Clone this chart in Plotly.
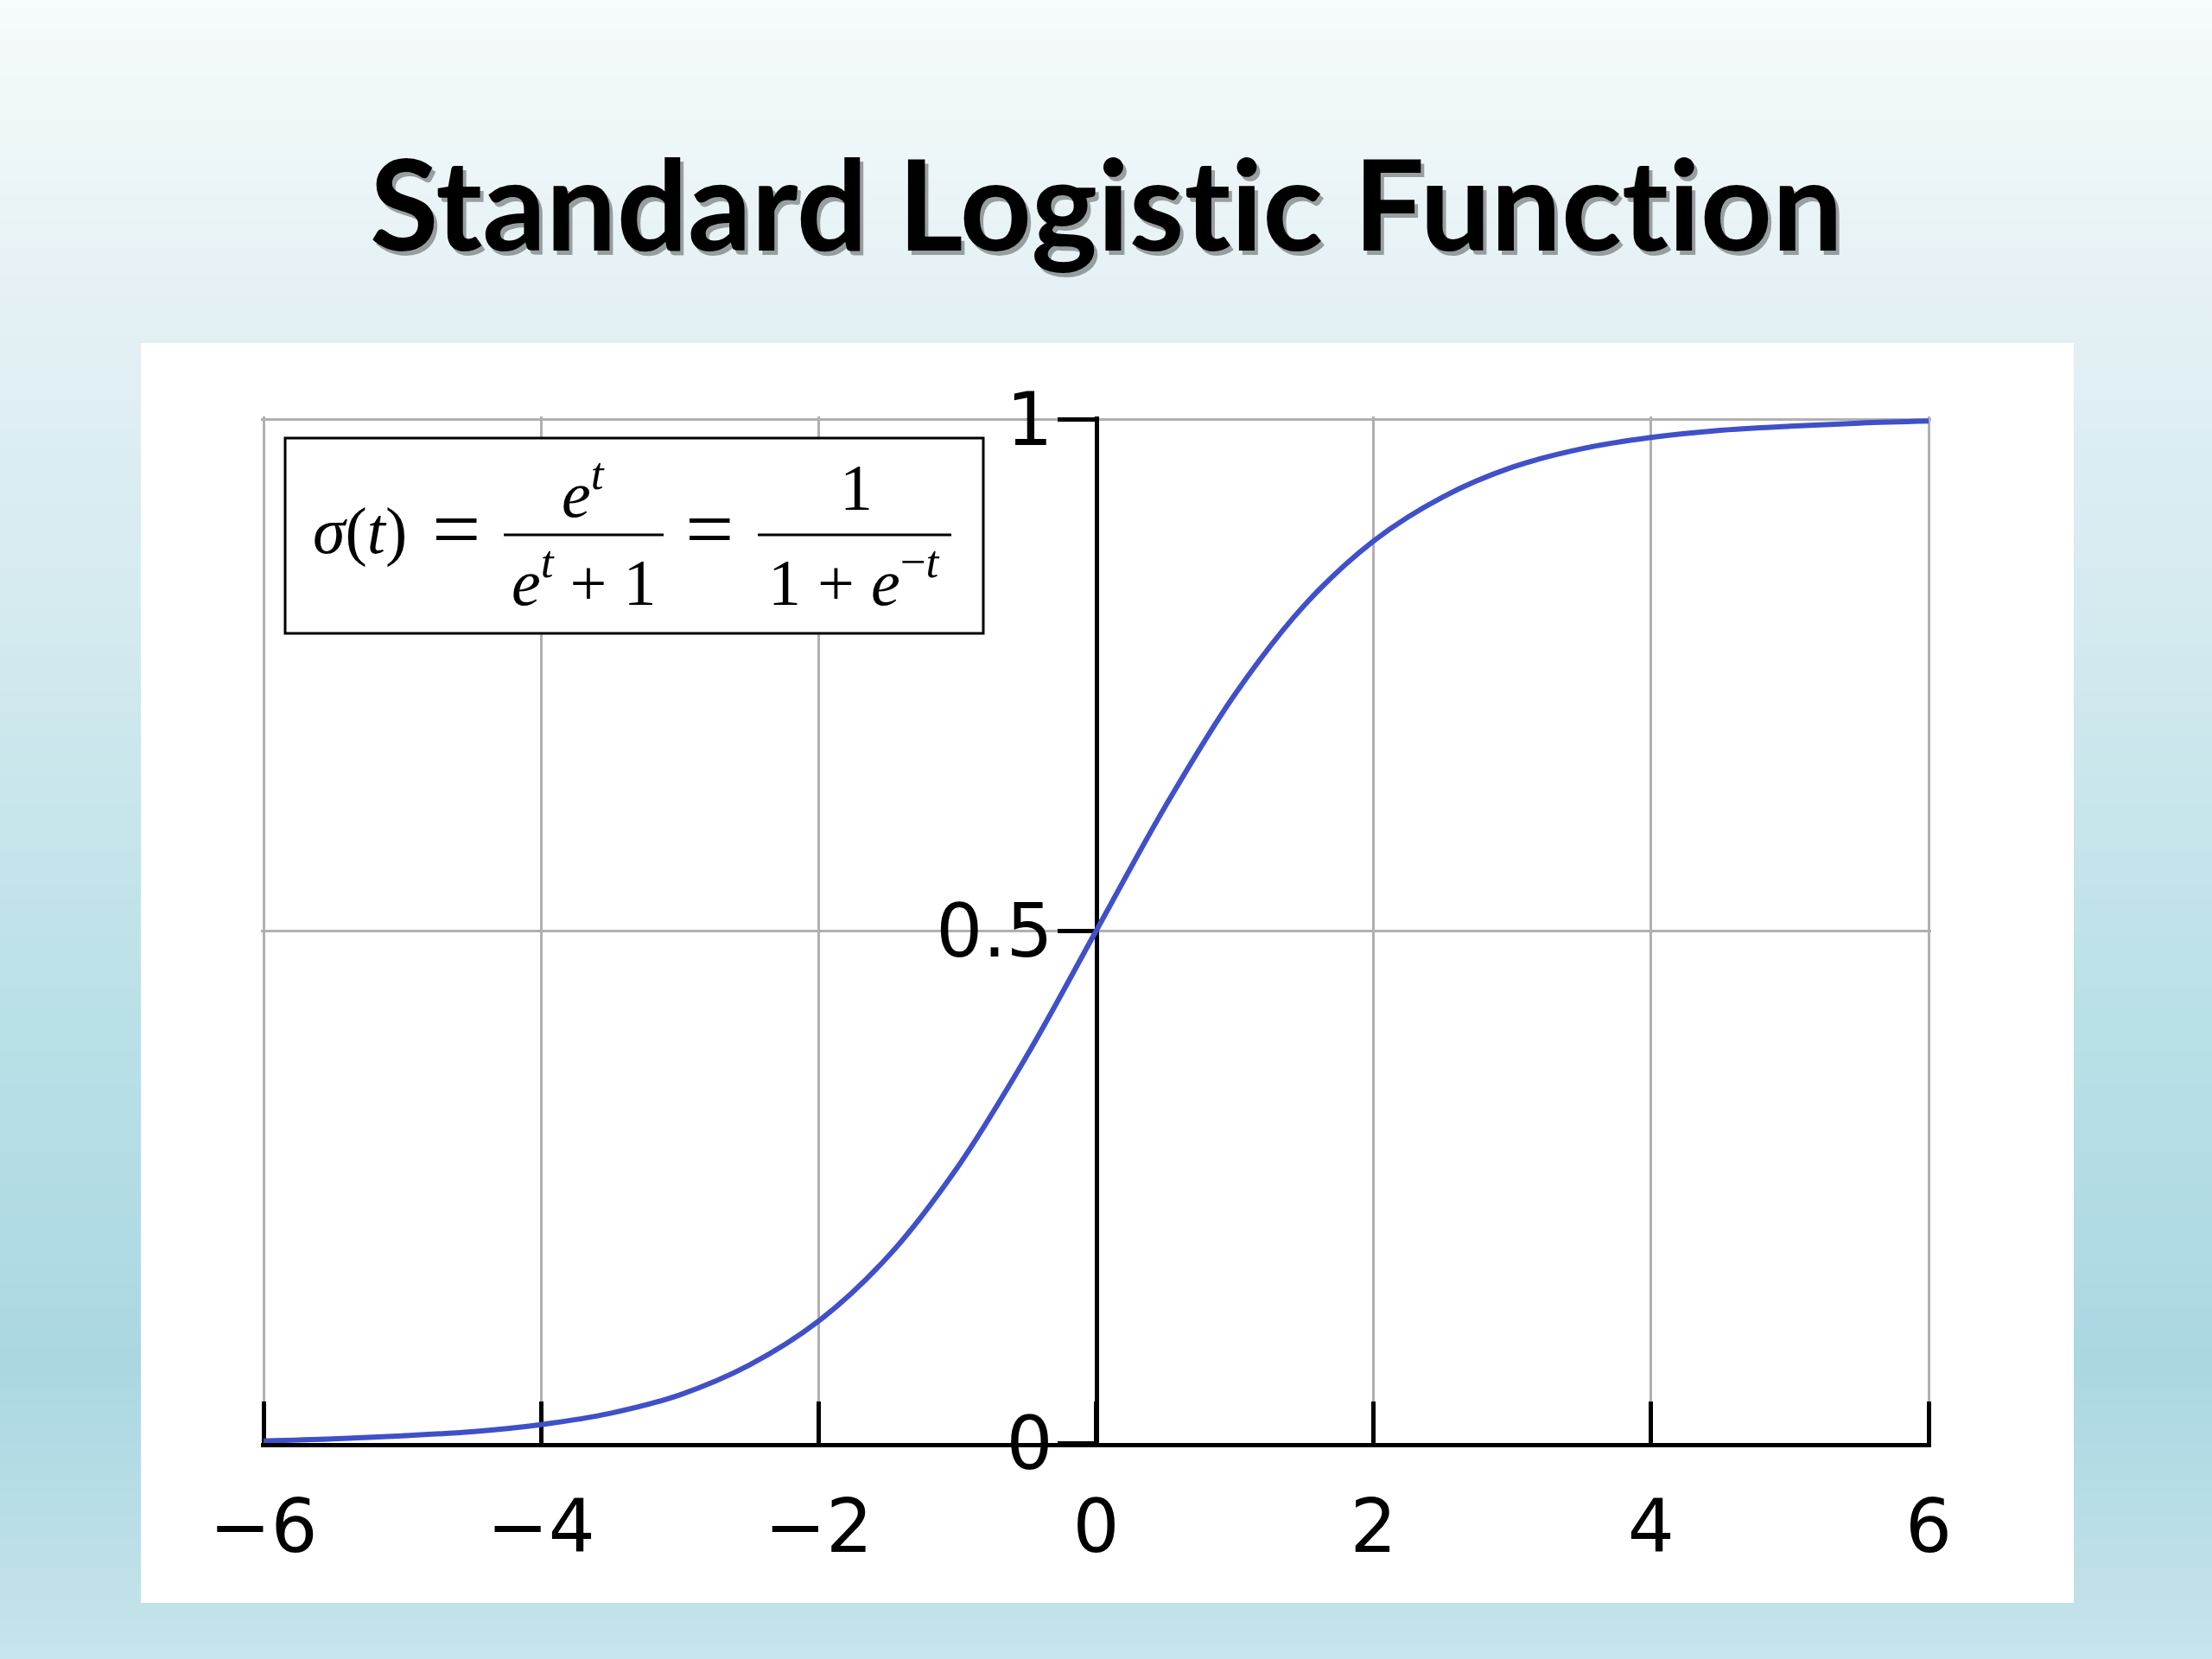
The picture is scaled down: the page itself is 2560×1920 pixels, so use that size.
import plotly.graph_objects as go

# ---------------- data ----------------
t_values = [-6.0, -5.5, -5.0, -4.5, -4.0, -3.5, -3.0, -2.5, -2.0, -1.5, -1.0, -0.5,
            0.0, 0.5, 1.0, 1.5, 2.0, 2.5, 3.0, 3.5, 4.0, 4.5, 5.0, 5.5, 6.0]
sigma_values = [0.002, 0.004, 0.007, 0.011, 0.018, 0.029, 0.047, 0.076, 0.119, 0.182,
                0.269, 0.378, 0.500, 0.622, 0.731, 0.818, 0.881, 0.924, 0.953, 0.971,
                0.982, 0.989, 0.993, 0.996, 0.998]
x_tickvals = [-6, -4, -2, 0, 2, 4, 6]
x_ticktext = ["\u22126", "\u22124", "\u22122", "0", "2", "4", "6"]
y_tickvals = [0, 0.5, 1]
y_ticktext = ["0", "0.5", "1"]
# zero-width non-joiners keep the "ti" pairs from turning into ligatures
title_text = "Standard Logist\u200cic Funct\u200cion"

W, H = 2560, 1920


def px(x):
    return x / W


def py(y):
    return 1 - y / H


# plot area in pixels (x = -6..6, y = 0..1)
PL, PR, PT, PB = 305, 2232, 485, 1670
ppx = (PR - PL) / 12.0      # pixels per x unit
ppy = (PB - PT) / 1.0       # pixels per y unit
pad = 3                     # tiny extension so edge grid lines / ticks are kept
x_range = [-6 - pad / ppx, 6 + pad / ppx]
y_range = [0, 1 + pad / ppy]
zero_pos = px(PL + 6 * ppx)

fig = go.Figure()
fig.add_trace(go.Scatter(
    x=t_values, y=sigma_values, mode="lines",
    line=dict(color="#3f50c8", width=6, shape="spline", smoothing=1.0),
    hoverinfo="skip", showlegend=False, cliponaxis=False,
))

# ---------------- background gradient ----------------
stops = [(0, (246, 251, 251)), (370, (227, 240, 244)), (735, (211, 234, 239)),
         (1100, (189, 226, 232)), (1580, (171, 215, 226)), (1920, (198, 228, 235))]


def grad_color(y):
    for (y0, c0), (y1, c1) in zip(stops[:-1], stops[1:]):
        if y0 <= y <= y1:
            f = (y - y0) / (y1 - y0)
            return "rgb(%d,%d,%d)" % tuple(round(a + (b - a) * f) for a, b in zip(c0, c1))
    return "rgb(%d,%d,%d)" % stops[-1][1]


shapes = []
step = 8
for y in range(0, H, step):
    shapes.append(dict(type="rect", xref="paper", yref="paper", x0=0, x1=1,
                       y0=py(y + step + 1), y1=py(y), line=dict(width=0),
                       fillcolor=grad_color(y + step / 2), layer="below"))
# white panel
shapes.append(dict(type="rect", xref="paper", yref="paper", x0=px(163), x1=px(2400),
                   y0=py(1855), y1=py(397), line=dict(width=0), fillcolor="white",
                   layer="below"))
# formula box
shapes.append(dict(type="rect", xref="paper", yref="paper", x0=px(330), x1=px(1138),
                   y0=py(733), y1=py(507), line=dict(color="black", width=3),
                   fillcolor="white", layer="above"))
# fraction bars
for a, b in [(583, 768), (877, 1101)]:
    shapes.append(dict(type="line", xref="paper", yref="paper", x0=px(a), x1=px(b),
                       y0=py(619), y1=py(619), line=dict(color="black", width=3),
                       layer="above"))

annotations = []
# title with shadow
for dx, dy, col in [(4, 5, "rgba(0,0,0,0.35)"), (0, 0, "black")]:
    annotations.append(dict(text=title_text, xref="paper", yref="paper",
                            x=px(1280 + dx), y=py(234 + dy), xanchor="center", yanchor="middle",
                            showarrow=False,
                            font=dict(family="Lato", size=145, color=col, weight=700)))

fs = 76
mid = 0.3375 * fs
serif = "Liberation Serif"


def math_text(text, cx, baseline, size=fs, ymid=None):
    yy = ymid if ymid is not None else baseline - 0.3375 * size
    annotations.append(dict(text=text, xref="paper", yref="paper", x=px(cx),
                            y=py(yy), xanchor="center", yanchor="middle",
                            showarrow=False, font=dict(family=serif, size=size, color="black")))


math_text("<i>\u03c3</i>(<i>t</i>)", 416, 640)
math_text("=", 528, 0, size=100, ymid=612)
math_text("<i>e</i><sup><i>t</i></sup>", 675, 592)
math_text("<i>e</i><sup><i>t</i></sup> + 1", 675, 694)
math_text("=", 821, 0, size=100, ymid=612)
math_text("1", 991, 590)
math_text("1 + <i>e</i><sup>\u2212<i>t</i></sup>", 988, 694)

tickfont = dict(family="DejaVu Sans", size=85, color="black")
fig.update_layout(
    width=W, height=H, margin=dict(l=0, r=0, t=0, b=0, autoexpand=False),
    paper_bgcolor="#c6e4eb", plot_bgcolor="rgba(0,0,0,0)",
    shapes=shapes, annotations=annotations, showlegend=False,
    xaxis=dict(range=x_range, domain=[px(PL - pad), px(PR + pad)], tickmode="array",
               tickvals=x_tickvals, ticktext=x_ticktext, showgrid=True,
               gridcolor="#b0b0b0", gridwidth=2.5, zeroline=False, showline=True,
               linecolor="black", linewidth=5, ticks="inside", ticklen=48, tickwidth=5,
               tickcolor="black", tickfont=tickfont, anchor="y", layer="below traces",
               ticklabelstandoff=19, fixedrange=True, automargin=False),
    yaxis=dict(range=y_range, domain=[py(PB), py(PT - pad)], tickmode="array",
               tickvals=y_tickvals, ticktext=y_ticktext, showgrid=True,
               gridcolor="#b0b0b0", gridwidth=2.5, zeroline=False, showline=True,
               linecolor="black", linewidth=5, ticks="outside", ticklen=43, tickwidth=5,
               tickcolor="black", tickfont=tickfont, anchor="free", position=zero_pos,
               layer="below traces", ticklabelstandoff=-12, fixedrange=True,
               automargin=False),
)

fig.write_html("out.html", config={"displayModeBar": False},
               post_script="document.body.style.margin='0';document.body.style.overflow='hidden';")
